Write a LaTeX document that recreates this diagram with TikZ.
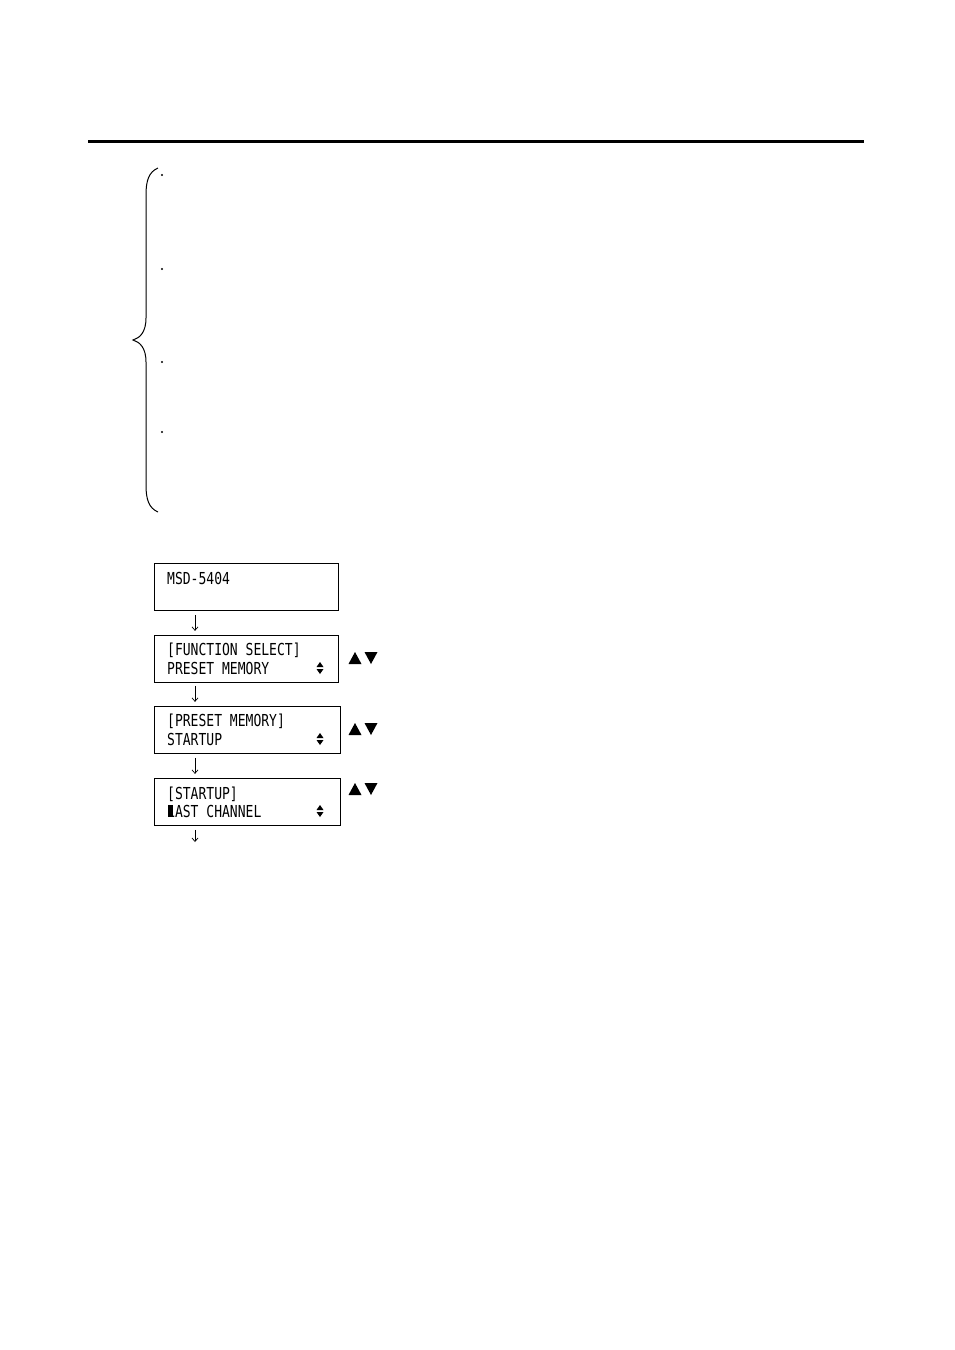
\documentclass[tikz,border=0pt]{standalone}
\usepackage{fontspec}
\newfontfamily\lcd[FakeStretch=0.79]{DejaVu Sans Mono}
\usetikzlibrary{arrows.meta}
\begin{document}
\begin{tikzpicture}[x=1pt,y=-1pt,
  lcdbox/.style={draw,line width=0.9pt,minimum height=47pt,anchor=north west,inner sep=0pt},
  lcdtext/.style={anchor=base west,inner sep=0pt,font=\lcd\fontsize{16.5}{16.5}\selectfont},
  flow/.style={line width=0.7pt,-{Straight Barb[length=3.5pt,width=6pt]}},
  tri/.style={fill=black}]
\useasboundingbox (0,0) rectangle (954,1350);
% top rule
\draw[line width=3pt] (88,141) -- (864,141);
% brace
\draw[line width=1pt] (158,168) .. controls (149,172) and (146,180) .. (146,195)
  -- (146,318) .. controls (146,332) and (140,338) .. (133,340)
  .. controls (140,342) and (146,348) .. (146,362)
  -- (146,485) .. controls (146,500) and (149,508) .. (158,512);
\foreach \yy/\n in {175/d1,269/d2,362/d3,432/d4}
  \fill (162,\yy) circle (1.2pt) coordinate (\n);
% boxes
\node[lcdbox,minimum width=184pt] (b1) at (154,563) {};
\node[lcdbox,minimum width=184pt] (b2) at (154,635) {};
\node[lcdbox,minimum width=186pt] (b3) at (154,706) {};
\node[lcdbox,minimum width=186pt] (b4) at (154,778) {};
\coordinate (end) at (195,842);
% texts
\node[lcdtext] (t1) at (167,584) {MSD-5404};
\node[lcdtext] (t2a) at (167,655) {[FUNCTION SELECT]};
\node[lcdtext] (t2b) at (167,674) {PRESET MEMORY};
\node[lcdtext] (t3a) at (167,726) {[PRESET MEMORY]};
\node[lcdtext] (t3b) at (167,745) {STARTUP};
\node[lcdtext] (t4a) at (167,799) {[STARTUP]};
\node[lcdtext] (t4b) at (167,817) {LAST CHANNEL};
\fill (167.5,805) rectangle (173,817);
% flow arrows
\draw[flow] (b1.south west) ++(41,4) -- ++(0,16);
\draw[flow] (b2.south west) ++(41,3) -- ++(0,16);
\draw[flow] (b3.south west) ++(41,4) -- ++(0,16);
\draw[flow] (b4.south west) ++(41,4) -- (end);
% up/down indicators in boxes
\foreach \yy in {668,739,811}{
  \fill (316.5,\yy-1) -- (323.5,\yy-1) -- (320,\yy-6) -- cycle;
  \fill (316.5,\yy+1) -- (323.5,\yy+1) -- (320,\yy+6) -- cycle;
}
% up/down keys
\foreach \yy in {658,729,789}{
  \fill (348.5,\yy+6) -- (361.5,\yy+6) -- (355,\yy-6) -- cycle;
  \fill (364.5,\yy-6) -- (377.5,\yy-6) -- (371,\yy+6) -- cycle;
}
\end{tikzpicture}
\end{document}
